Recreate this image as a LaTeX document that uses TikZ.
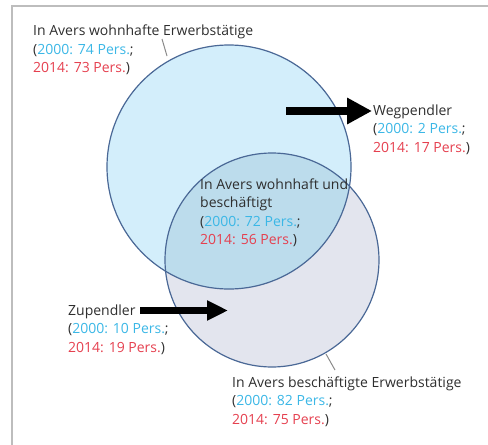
\documentclass[tikz,border=0pt]{standalone}
\usepackage{fontspec}
\setmainfont{Open Sans}
\usetikzlibrary{arrows.meta}
\definecolor{txtdark}{HTML}{2E2E2E}
\definecolor{txtblue}{HTML}{3BB7E6}
\definecolor{txtred}{HTML}{E5404F}
\definecolor{fillblue}{HTML}{D3EEFB}
\definecolor{fillgray}{HTML}{E3E5EE}
\definecolor{fillmix}{HTML}{BCDCEC}
\definecolor{edgeblue}{HTML}{4A6896}
\definecolor{framegray}{HTML}{BDBDBD}
\definecolor{leadgray}{HTML}{8A8A8A}
\newcommand{\yb}[1]{\textcolor{txtblue}{#1}}
\newcommand{\yr}[1]{\textcolor{txtred}{#1}}
\begin{document}
\begin{tikzpicture}[x=1pt,y=-1pt,
  lbl/.style={anchor=base west,inner sep=0pt,align=left,text=txtdark,
    font=\fontsize{14pt}{18.5pt}\selectfont},
  leader/.style={draw=leadgray,line width=1pt},
  bigarrow/.style={line width=8.5pt,-{Triangle[length=25pt,width=25pt]}},
  smallarrow/.style={line width=7pt,-{Triangle[length=21pt,width=19pt]}},
  circ/.style={draw=edgeblue,line width=1.2pt}]
\useasboundingbox (0,0) rectangle (488,445);
% frame
\draw[framegray,line width=2pt] (488,6) -- (12,6) -- (12,445);
% circles
\coordinate (cb) at (229,167);
\coordinate (cg) at (272,260);
\fill[fillgray] (cg) circle[radius=107];
\fill[fillblue] (cb) circle[radius=122];
\begin{scope}
  \clip (cb) circle[radius=122];
  \fill[fillmix] (cg) circle[radius=107];
\end{scope}
\draw[circ] (cg) circle[radius=107];
\draw[circ] (cb) circle[radius=122];
% labels (anchor = baseline of last line)
\node[lbl] (lres) at (33,72.5) {In Avers wohnhafte Erwerbstätige\\(\yb{2000: 74 Pers.};\\\yr{2014: 73 Pers.})};
\node[lbl] (lweg) at (373,152) {Wegpendler\\(\yb{2000: 2 Pers.};\\\yr{2014: 17 Pers.})};
\node[lbl] (lboth) at (200,244.5) {In Avers wohnhaft und\\beschäftigt\\(\yb{2000: 72 Pers.};\\\yr{2014: 56 Pers.})};
\node[lbl] (lzu) at (68,352) {Zupendler\\(\yb{2000: 10 Pers.};\\\yr{2014: 19 Pers.})};
\node[lbl] (lemp) at (232,424) {In Avers beschäftigte Erwerbstätige\\(\yb{2000: 82 Pers.};\\\yr{2014: 75 Pers.})};
% leader lines
\coordinate (t1) at (162,39);
\coordinate (t1e) at (167,56);
\draw[leader] (t1) -- (t1e);
\coordinate (t2) at (335,370);
\coordinate (t2e) at (326,354);
\draw[leader] (t2) -- (t2e);
% arrows
\coordinate (wa) at (286,111);
\coordinate (wb) at (372,111);
\draw[bigarrow] (wa) -- (wb);
\coordinate (za) at (140,310.5);
\coordinate (zb) at (228,310.5);
\draw[smallarrow] (za) -- (zb);
\end{tikzpicture}
\end{document}
